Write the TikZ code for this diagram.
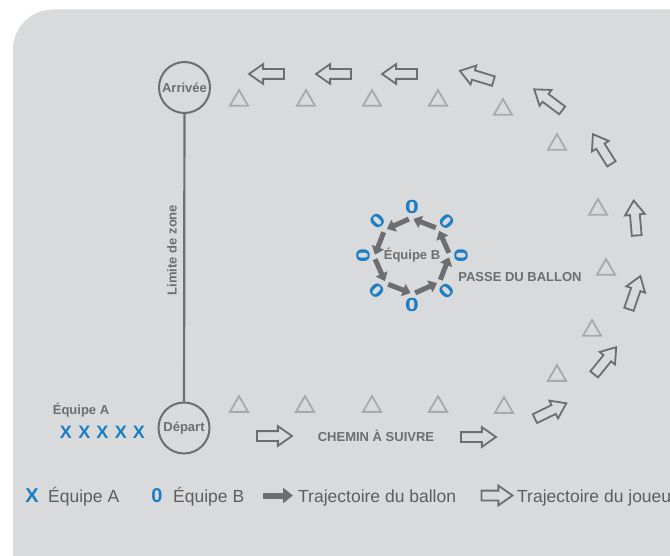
\documentclass[tikz,border=0pt]{standalone}
\usepackage{fontspec}
\setmainfont{Liberation Sans}
\usetikzlibrary{shapes,shapes.arrows,shapes.geometric,arrows.meta}
\pgfdeclarelayer{bglayer}
\pgfdeclarelayer{edgelayer}
\pgfdeclarelayer{nodelayer}
\pgfsetlayers{bglayer,edgelayer,nodelayer,main}
\definecolor{fond}{HTML}{D9DADC}
\definecolor{gris}{HTML}{6D6E71}
\definecolor{cone}{HTML}{A7A9AC}
\definecolor{bleu}{HTML}{1B7DC3}
\tikzset{font=\fontsize{13}{15}\bfseries\selectfont}
\tikzstyle{none}=[inner sep=0pt]
\tikzstyle{texte}=[inner sep=0pt,text=gris]
\tikzstyle{borne}=[circle,draw=gris,line width=2pt,minimum size=51pt,inner sep=0pt,text=gris]
\tikzstyle{plot}=[regular polygon,regular polygon sides=3,draw=cone,line width=1.8pt,minimum size=21pt,inner sep=0pt]
\tikzstyle{course}=[single arrow,draw=gris,line width=1.8pt,minimum height=35pt,minimum width=0pt,inner xsep=0pt,inner ysep=4pt,single arrow head extend=5pt,single arrow tip angle=70]
\tikzstyle{joueurA}=[inner sep=0pt,text=bleu,font=\fontsize{18}{20}\bfseries\selectfont]
\tikzstyle{joueurB}=[inner sep=0pt,text=bleu,font=\fontsize{19}{21}\bfseries\selectfont]
\tikzstyle{legende}=[inner sep=0pt,anchor=base west,text=gris!85!black,font=\fontsize{17.5}{20}\selectfont]
\tikzstyle{signe}=[inner sep=0pt,anchor=base,text=bleu,font=\fontsize{20}{22}\bfseries\selectfont]
\tikzstyle{limite}=[draw=gris,line width=2.2pt]
\tikzstyle{passe}=[draw=gris,line width=5pt,-{Triangle[length=8pt,width=12.5pt]}]
\tikzstyle{passe legende}=[draw=gris,line width=6pt,-{Triangle[length=10pt,width=15pt]}]
\newcommand{\rond}{\scalebox{1.3}[1]{0}}

\begin{document}
\begin{tikzpicture}[x=10pt,y=10pt]
	\useasboundingbox (0,0) rectangle (67,-55.6);
	\begin{pgfonlayer}{bglayer}
		\fill [fond, rounded corners=40pt] (1.3,-60) -- (1.3,-0.95) -- (80,-0.95) -- (80,-60) -- cycle;
	\end{pgfonlayer}
	\begin{pgfonlayer}{nodelayer}
		\node [style=borne] (0) at (18.45, -8.75) {Arrivée};
		\node [style=borne] (1) at (18.4, -42.8) {Départ};
		\node [style=texte, rotate=90] (2) at (17.2, -25.0) {Limite de zone};
		\node [style=texte] (3) at (8.1, -41.0) {Équipe A};
		\node [style=joueurA] (4) at (6.6, -43.2) {X};
		\node [style=joueurA] (5) at (8.43, -43.2) {X};
		\node [style=joueurA] (6) at (10.25, -43.2) {X};
		\node [style=joueurA] (7) at (12.08, -43.2) {X};
		\node [style=joueurA] (8) at (13.9, -43.2) {X};
		\node [style=texte] (9) at (41.2, -25.55) {Équipe B};
		\node [style=texte] (10) at (52.0, -27.7) {PASSE DU BALLON};
		\node [style=texte] (11) at (37.6, -43.6) {CHEMIN À SUIVRE};
		\node [style=plot] (12) at (23.9, -10.06) {};
		\node [style=plot] (13) at (30.6, -10.06) {};
		\node [style=plot] (14) at (37.2, -10.06) {};
		\node [style=plot] (15) at (43.8, -10.06) {};
		\node [style=plot] (16) at (50.3, -10.96) {};
		\node [style=plot] (17) at (55.7, -14.46) {};
		\node [style=plot] (18) at (59.8, -20.96) {};
		\node [style=plot] (19) at (60.6, -26.96) {};
		\node [style=plot] (20) at (59.2, -33.06) {};
		\node [style=plot] (21) at (55.7, -37.56) {};
		\node [style=plot] (22) at (50.4, -40.76) {};
		\node [style=plot] (23) at (23.9, -40.66) {};
		\node [style=plot] (24) at (30.5, -40.66) {};
		\node [style=plot] (25) at (37.2, -40.66) {};
		\node [style=plot] (26) at (43.8, -40.66) {};
		\node [style=course, rotate=180] (27) at (27.0, -7.4) {};
		\node [style=course, rotate=180] (28) at (33.7, -7.4) {};
		\node [style=course, rotate=180] (29) at (40.3, -7.4) {};
		\node [style=course, rotate=163] (30) at (48.0, -7.7) {};
		\node [style=course, rotate=143] (31) at (55.1, -10.2) {};
		\node [style=course, rotate=122] (32) at (60.4, -15.2) {};
		\node [style=course, rotate=95] (33) at (63.55, -22.15) {};
		\node [style=course, rotate=71] (34) at (63.35, -29.6) {};
		\node [style=course, rotate=51] (35) at (60.3, -36.35) {};
		\node [style=course, rotate=26] (36) at (54.75, -41.25) {};
		\node [style=course] (37) at (27.1, -43.6) {};
		\node [style=course] (38) at (47.5, -43.7) {};
		\node [style=joueurB] (39) at (41.2, -20.7) {\rond};
		\node [style=joueurB, rotate=45] (40) at (37.74, -22.14) {\rond};
		\node [style=joueurB, rotate=90] (41) at (36.3, -25.6) {\rond};
		\node [style=joueurB, rotate=-45] (42) at (37.74, -29.07) {\rond};
		\node [style=joueurB] (43) at (41.2, -30.5) {\rond};
		\node [style=joueurB, rotate=45] (44) at (44.67, -29.07) {\rond};
		\node [style=joueurB, rotate=90] (45) at (46.1, -25.6) {\rond};
		\node [style=joueurB, rotate=-45] (46) at (44.67, -22.14) {\rond};
		\node [style=none] (47) at (40.88, -21.91) {};
		\node [style=none] (48) at (38.68, -22.89) {};
		\node [style=none] (49) at (38.37, -23.22) {};
		\node [style=none] (50) at (37.5, -25.47) {};
		\node [style=none] (51) at (37.51, -25.92) {};
		\node [style=none] (52) at (38.49, -28.12) {};
		\node [style=none] (53) at (38.82, -28.43) {};
		\node [style=none] (54) at (41.07, -29.3) {};
		\node [style=none] (55) at (41.52, -29.29) {};
		\node [style=none] (56) at (43.72, -28.31) {};
		\node [style=none] (57) at (44.03, -27.98) {};
		\node [style=none] (58) at (44.9, -25.73) {};
		\node [style=none] (59) at (44.89, -25.28) {};
		\node [style=none] (60) at (43.91, -23.08) {};
		\node [style=none] (61) at (43.58, -22.77) {};
		\node [style=none] (62) at (41.33, -21.9) {};
		\node [style=signe] (63) at (3.2, -50.2) {X};
		\node [style=legende] (64) at (4.8, -50.2) {Équipe A};
		\node [style=signe] (65) at (15.7, -50.2) {0};
		\node [style=legende] (66) at (17.3, -50.2) {Équipe B};
		\node [style=none] (67) at (26.3, -49.55) {};
		\node [style=none] (68) at (29.3, -49.55) {};
		\node [style=legende] (69) at (29.8, -50.2) {Trajectoire du ballon};
		\node [style=course, minimum height=31pt] (70) at (49.35, -49.55) {};
		\node [style=legende] (71) at (51.7, -50.2) {Trajectoire du joueur};
	\end{pgfonlayer}
	\begin{pgfonlayer}{edgelayer}
		\draw [style=limite] (0) to (1);
		\draw [style=passe] (47.center) to (48.center);
		\draw [style=passe] (49.center) to (50.center);
		\draw [style=passe] (51.center) to (52.center);
		\draw [style=passe] (53.center) to (54.center);
		\draw [style=passe] (55.center) to (56.center);
		\draw [style=passe] (57.center) to (58.center);
		\draw [style=passe] (59.center) to (60.center);
		\draw [style=passe] (61.center) to (62.center);
		\draw [style=passe legende] (67.center) to (68.center);
	\end{pgfonlayer}
\end{tikzpicture}
\end{document}
